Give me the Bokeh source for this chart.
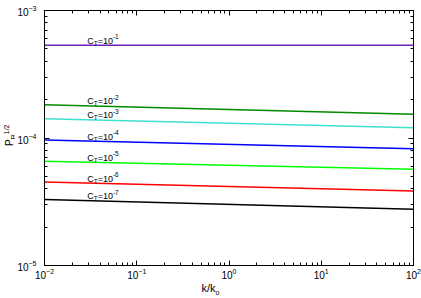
import math
from bokeh.plotting import figure
from bokeh.layouts import column, row
from bokeh.models import LogAxis, LogTicker, Label, Range1d, CustomJSTickFormatter, Div
from bokeh.embed import file_html
from bokeh.resources import INLINE

# ---- data ----
k_vals = [1e-2, 1e2]
ct_exponents = ["-1", "-2", "-3", "-4", "-5", "-6", "-7"]
pr_ct1 = [5.34e-4, 5.34e-4]
pr_ct2 = [1.825e-4, 1.535e-4]
pr_ct3 = [1.416e-4, 1.205e-4]
pr_ct4 = [9.64e-5, 8.24e-5]
pr_ct5 = [6.56e-5, 5.68e-5]
pr_ct6 = [4.52e-5, 3.84e-5]
pr_ct7 = [3.30e-5, 2.76e-5]
series = [pr_ct1, pr_ct2, pr_ct3, pr_ct4, pr_ct5, pr_ct6, pr_ct7]
colors = ["#7221bc", "#008b00", "#40e0d0", "#0000ff", "#00ff00", "#ff0000", "#000000"]
label_k = 0.029

FONT = "Liberation Sans"
ADV = {"C": 722, "T": 611, "=": 584, "-": 333, "/": 278, "P": 667, "R": 722,
       "k": 500, "o": 556}
for d in "0123456789":
    ADV[d] = 556


def tw(s, size):
    return sum(ADV.get(c, 556) for c in s) / 1000.0 * size


p = figure(width=407, height=283, x_axis_type="log", y_axis_type="log",
           x_range=Range1d(1e-2, 1e2), y_range=Range1d(1e-5, 1e-3),
           output_backend="svg", toolbar_location=None,
           min_border_left=28, min_border_right=8, min_border_top=10,
           min_border_bottom=18, margin=0)
p.grid.visible = False
p.outline_line_color = "black"
p.background_fill_color = "white"
p.border_fill_color = "white"

xt = LogTicker(desired_num_ticks=5, num_minor_ticks=10)
yt = LogTicker(desired_num_ticks=3, num_minor_ticks=10)
p.xaxis.ticker = xt
p.yaxis.ticker = yt
blank = CustomJSTickFormatter(code="return ''")
top_ax = LogAxis(ticker=xt, formatter=blank, major_label_standoff=0)
right_ax = LogAxis(ticker=yt, formatter=blank, major_label_standoff=0)
p.add_layout(top_ax, "above")
p.add_layout(right_ax, "right")

for ax in p.xaxis + p.yaxis + [top_ax, right_ax]:
    ax.major_tick_in = 5
    ax.major_tick_out = 0
    ax.minor_tick_in = 3
    ax.minor_tick_out = 0
    ax.axis_line_color = "black"
    ax.major_tick_line_color = "black"
    ax.minor_tick_line_color = "black"
    ax.major_label_text_font = FONT
    ax.major_label_text_font_size = "10px"
    ax.major_label_text_color = "black"

p.below[0].major_label_standoff = 2
p.left[0].major_label_standoff = 8

for ys, c in zip(series, colors):
    p.line(k_vals, ys, line_color=c, line_width=1.5)


def add_parts(parts, x, y, base_yoff=0.0):
    adv = 0.0
    for text, size, shift in parts:
        p.add_layout(Label(x=x, y=y, text=text,
                           x_offset=adv, y_offset=base_yoff + shift,
                           text_font=FONT, text_font_size=f"{size}px",
                           text_baseline="alphabetic", text_align="left",
                           text_color="black"))
        adv += tw(text, size)


# curve labels C_T = 10^n
lx = math.log10(label_k)
l0, l1 = math.log10(k_vals[0]), math.log10(k_vals[1])
for ys, e in zip(series, ct_exponents):
    f = (lx - l0) / (l1 - l0)
    ly = math.log10(ys[0]) + f * (math.log10(ys[1]) - math.log10(ys[0]))
    add_parts([("C", 9, 0), ("T", 6.5, -2.5), ("=10", 9, 0), (e, 6.5, 4)],
              label_k, 10 ** ly, base_yoff=4.5)

font_css = "font-family: 'Liberation Sans', Arial, sans-serif; color: black; white-space: nowrap;"
ytitle = Div(
    text=('<div style="transform: translate(1.5px, 145px) rotate(-90deg); '
          'transform-origin: 0 0; font-size: 10px; line-height: 10px; ' + font_css + '">'
          'P<sub style="font-size:7px">R</sub><sup style="font-size:7px">1/2</sup></div>'),
    width=14, height=283, margin=0)
xtitle = Div(
    text=('<div style="position: relative; top: -3px; width: 388px; padding-left: 33px; '
          'text-align: center; font-size: 11px; line-height: 11px; ' + font_css + '">'
          'k/k<sub style="font-size:7px; line-height: 7px;">o</sub></div>'),
    width=421, height=15, margin=0)

layout = column(row(ytitle, p, spacing=0, margin=0), xtitle, spacing=0, margin=0)

open("out.html", "w").write(file_html(layout, INLINE))
